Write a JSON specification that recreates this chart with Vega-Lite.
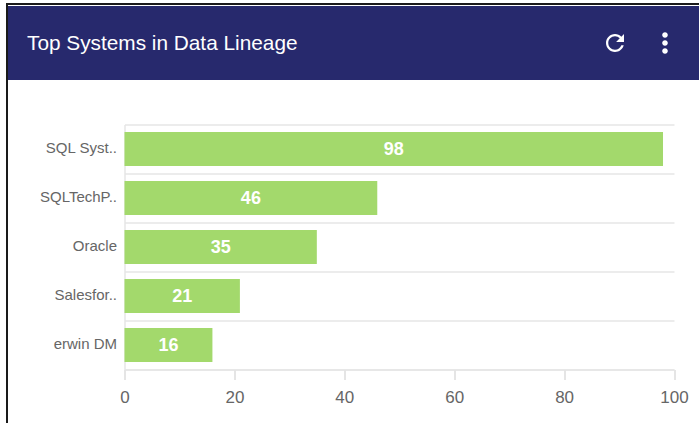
{
  "$schema": "https://vega.github.io/schema/vega-lite/v6.json",
  "width": 549.5,
  "height": 245,
  "autosize": {"type": "none"},
  "padding": {"left": 124.5, "top": 124.5, "right": 25, "bottom": 53.5},
  "background": "white",
  "config": {"view": {"stroke": null}, "font": "Liberation Sans"},
  "layer": [
    {
      "data": {"values": [{"system": "SQL Syst..", "count": 98}, {"system": "SQLTechP..", "count": 46}, {"system": "Oracle", "count": 35}, {"system": "Salesfor..", "count": 21}, {"system": "erwin DM", "count": 16}]},
      "mark": {"type": "bar", "size": 34, "color": "#a3d96c"},
      "encoding": {
        "y": {"field": "system", "type": "nominal", "sort": null, "title": null,
          "scale": {"paddingInner": 0, "paddingOuter": 0},
          "axis": {"grid": true, "gridColor": "#e6e6e6", "gridWidth": 1.5, "tickBand": "extent", "ticks": false, "domainColor": "#e6e6e6", "domainWidth": 1.5, "labelColor": "#666666", "labelFontSize": 15, "labelPadding": 8, "labelLimit": 200, "labelOffset": -1.5}},
        "x": {"field": "count", "type": "quantitative", "title": null,
          "scale": {"domain": [0, 100], "nice": false},
          "axis": {"grid": false, "values": [0, 20, 40, 60, 80, 100], "tickColor": "#dddddd", "tickSize": 10, "tickWidth": 1.5, "domainColor": "#e6e6e6", "domainWidth": 1.5, "labelColor": "#666666", "labelFontSize": 17, "labelPadding": 9.5, "labelFlush": false}}
      }
    },
    {
      "data": {"values": [{"system": "SQL Syst..", "count": 98}, {"system": "SQLTechP..", "count": 46}, {"system": "Oracle", "count": 35}, {"system": "Salesfor..", "count": 21}, {"system": "erwin DM", "count": 16}]},
      "mark": {"type": "text", "color": "white", "fontWeight": "bold", "fontSize": 18, "baseline": "middle", "align": "center", "dy": 1},
      "encoding": {
        "y": {"field": "system", "type": "nominal", "sort": null},
        "x": {"field": "count", "type": "quantitative", "stack": "zero", "bandPosition": 0.5},
        "detail": {"field": "system"},
        "text": {"field": "count", "type": "quantitative"}
      }
    },
    {
      "data": {"values": [{"part": "header"}]},
      "mark": {"type": "rect", "color": "#27296d"},
      "encoding": {"x": {"value": -116.5}, "x2": {"value": 575}, "y": {"value": -118.5}, "y2": {"value": -44.5}}
    },
    {
      "data": {"values": [{"part": "top edge"}]},
      "mark": {"type": "rect", "color": "#1a1a1a"},
      "encoding": {"x": {"value": -118.5}, "x2": {"value": 575}, "y": {"value": -121.5}, "y2": {"value": -119.5}}
    },
    {
      "data": {"values": [{"part": "left edge"}]},
      "mark": {"type": "rect", "color": "#1a1a1a"},
      "encoding": {"x": {"value": -118.5}, "x2": {"value": -116.5}, "y": {"value": -121.5}, "y2": {"value": 299}}
    },
    {
      "data": {"values": [{"label": "Top Systems in Data Lineage"}]},
      "mark": {"type": "text", "color": "white", "fontSize": 20.8, "align": "left", "baseline": "middle"},
      "encoding": {"x": {"value": -97.5}, "y": {"value": -80.5}, "text": {"field": "label"}}
    },
    {
      "data": {"values": [{"icon": "refresh"}]},
      "mark": {"type": "point", "filled": true, "color": "white", "opacity": 1, "size": 729, "shape": "M.471 -.471C.35 -.592 .184 -.667 0 -.667c-.368 0 -.666 .298 -.666 .667s.2975 .667 .666 .667c.311 0 .57 -.2125 .644 -.5h-.173c-.068 .194 -.253 .333 -.471 .333c-.276 0 -.5 -.224 -.5 -.5s.224 -.5 .5 -.5c.138 0 .262 .0575 .352 .148L.083 -.083h.583V-.667l-.196 .196z"},
      "encoding": {"x": {"value": 490.5}, "y": {"value": -81.5}}
    },
    {
      "data": {"values": [{"icon": "menu"}]},
      "mark": {"type": "point", "filled": true, "color": "white", "opacity": 1, "size": 484, "shape": "M-.255 -.727a.255 .255 0 1 0 .51 0a.255 .255 0 1 0 -.51 0zM-.255 0a.255 .255 0 1 0 .51 0a.255 .255 0 1 0 -.51 0zM-.255 .727a.255 .255 0 1 0 .51 0a.255 .255 0 1 0 -.51 0z"},
      "encoding": {"x": {"value": 540.5}, "y": {"value": -81.5}}
    }
  ]
}
